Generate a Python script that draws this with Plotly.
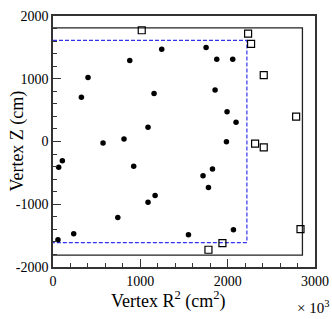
import plotly.graph_objects as go

# Events inside fiducial volume (filled circles)
in_r2 = [325, 401, 573, 879, 1245, 1157, 1088, 813, 924, 1169, 1088, 742, 237, 57, 65, 107,
         1753, 1875, 2058, 1856, 1993, 2096, 1986, 1826, 1718, 1780, 1551, 2066]
in_z = [707, 1021, -24, 1291, 1471, 766, 226, 40, -395, -862, -967, -1211, -1471, -1566, -410, -305,
        1498, 1312, 1312, 819, 474, 305, -3, -437, -544, -734, -1486, -1407]

# Events outside fiducial volume (open squares)
out_r2 = [1016, 2234, 2268, 2413, 2784, 2314, 2413, 2834, 1940, 1780]
out_z = [1773, 1720, 1555, 1057, 395, -35, -93, -1396, -1619, -1725]

# Detector (inner detector) boundary and fiducial volume boundary
id_r2 = [0, 2856.1, 2856.1, 0]
id_z = [1810, 1810, -1810, -1810]
fv_r2 = [0, 2220.1, 2220.1, 0]
fv_z = [1610, 1610, -1610, -1610]

x_ticks = [0, 1000, 2000, 3000]
y_ticks = [-2000, -1000, 0, 1000, 2000]

fig = go.Figure()
fig.add_trace(go.Scatter(x=id_r2, y=id_z, mode="lines",
                         line=dict(color="#222222", width=1.3), hoverinfo="skip"))
fig.add_trace(go.Scatter(x=fv_r2, y=fv_z, mode="lines",
                         line=dict(color="#3333ee", width=1.2, dash="4px,2px"), hoverinfo="skip"))
fig.add_trace(go.Scatter(x=in_r2, y=in_z, mode="markers",
                         marker=dict(symbol="circle", size=5.5, color="black")))
fig.add_trace(go.Scatter(x=out_r2, y=out_z, mode="markers",
                         marker=dict(symbol="square-open", size=7, color="black",
                                     line=dict(width=1.2, color="black"))))

font = dict(family="Liberation Serif, serif", color="black")

fig.update_layout(
    width=332, height=319,
    margin=dict(l=53, r=17, t=16, b=52, autoexpand=False),
    paper_bgcolor="white", plot_bgcolor="white",
    showlegend=False,
    font=dict(**font, size=14),
    xaxis=dict(range=[0, 3000], tickvals=x_ticks, ticktext=[str(v) for v in x_ticks],
               ticks="inside", ticklen=8, tickcolor="#333", showgrid=False, zeroline=False,
               showline=True, linecolor="#333", linewidth=1.5, mirror=True, automargin=False,
               minor=dict(ticks="inside", ticklen=4, dtick=200, tickcolor="#333", showgrid=False),
               tickfont=dict(**font, size=14)),
    yaxis=dict(range=[-2000, 2000], tickvals=y_ticks, ticktext=[str(v) for v in y_ticks],
               ticks="inside", ticklen=8, tickcolor="#333", showgrid=False, zeroline=False,
               showline=True, linecolor="#333", linewidth=1.5, mirror=True, automargin=False,
               minor=dict(ticks="inside", ticklen=4, dtick=200, tickcolor="#333", showgrid=False),
               tickfont=dict(**font, size=14)),
    annotations=[
        dict(text="Vertex R<sup>2</sup> (cm<sup>2</sup>)", xref="paper", yref="paper",
             x=0.44, y=-0.132, xanchor="center", yanchor="middle", showarrow=False,
             font=dict(**font, size=18)),
        dict(text="Vertex Z (cm)", xref="paper", yref="paper", x=-0.137, y=0.5,
             xanchor="center", yanchor="middle", textangle=-90, showarrow=False,
             font=dict(**font, size=18)),
        dict(text="× 10<sup>3</sup>", xref="paper", yref="paper", x=1.06, y=-0.16,
             xanchor="right", yanchor="middle", showarrow=False,
             font=dict(**font, size=15)),
    ],
)

fig.write_html("out.html", config={"displayModeBar": False},
               post_script="document.body.style.margin='0';document.body.style.overflow='hidden';")
